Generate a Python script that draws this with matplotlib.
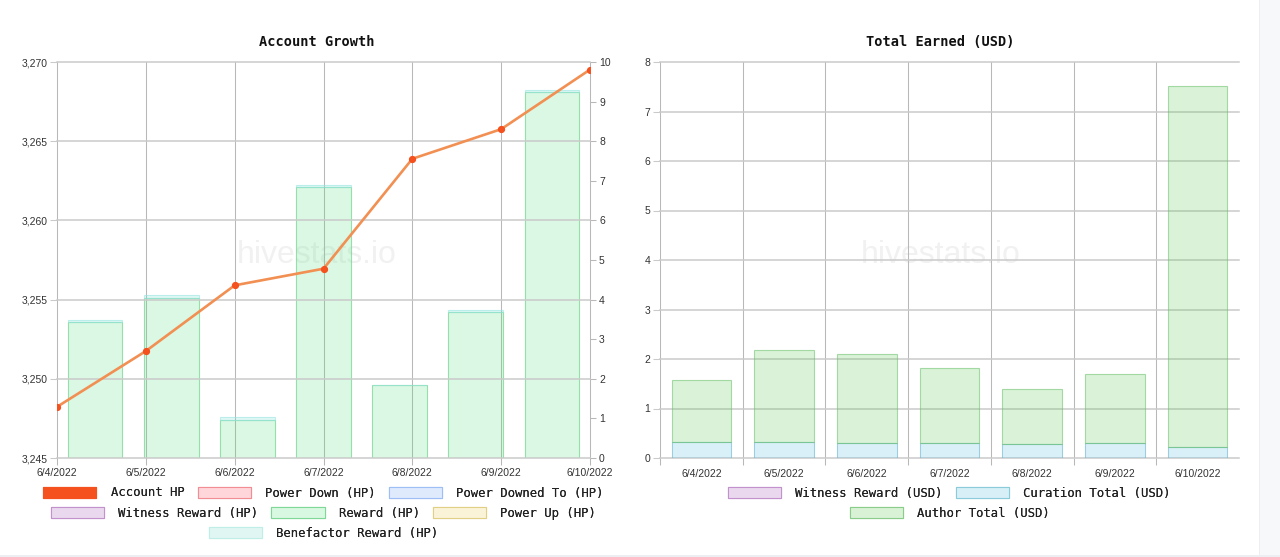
import matplotlib.pyplot as plt
from matplotlib.patches import Patch, Rectangle
import numpy as np

# =========================================================
#  DATOS
# =========================================================
fechas = ['6/4/2022', '6/5/2022', '6/6/2022', '6/7/2022',
          '6/8/2022', '6/9/2022', '6/10/2022']

account_hp = [3248.23, 3251.75, 3255.90, 3256.95, 3263.89, 3265.76, 3269.52]
reward_hp = [3.43, 4.05, 0.96, 6.84, 1.85, 3.68, 9.23]
benefactor_hp = [0.05, 0.07, 0.08, 0.06, 0.00, 0.05, 0.07]

curation_usd = [0.33, 0.32, 0.30, 0.31, 0.29, 0.30, 0.22]
author_usd = [1.25, 1.86, 1.81, 1.51, 1.10, 1.40, 7.29]

hp_ticks = [3245, 3250, 3255, 3260, 3265, 3270]
hp_ticklabels = ['3,245', '3,250', '3,255', '3,260', '3,265', '3,270']

# =========================================================
#  ESTILO
# =========================================================
W, H = 1280, 557
GRID_H = '#cacaca'
GRID_V = '#b8b8b8'
TXT = '#333333'
MONO = 'DejaVu Sans Mono'
SANS = 'Liberation Sans'

plt.rcParams['font.family'] = SANS
plt.rcParams['xtick.labelsize'] = 7.5
plt.rcParams['ytick.labelsize'] = 7.5

fig = plt.figure(figsize=(W / 100, H / 100), dpi=100)
fig.patch.set_facecolor('white')

# franjas grises del borde de la página
fig.patches.append(Rectangle((1259 / W, 0), 21 / W, 1, transform=fig.transFigure,
                             facecolor='#f7f8fa', edgecolor='none', zorder=-5))
fig.patches.append(Rectangle((1259 / W, 0), 1 / W, 1, transform=fig.transFigure,
                             facecolor='#eceef1', edgecolor='none', zorder=-4))
fig.patches.append(Rectangle((0, 0), 1, 2 / H, transform=fig.transFigure,
                             facecolor='#eceef1', edgecolor='none', zorder=-4))


def px(x0, x1, y0, y1):
    return [x0 / W, 1 - y1 / H, (x1 - x0) / W, (y1 - y0) / H]


def fila_leyenda(handles, labels, xc, yc):
    leg = fig.legend(handles, labels, loc='center', bbox_to_anchor=(xc / W, 1 - yc / H),
                     ncol=len(handles), frameon=False, borderpad=0, borderaxespad=0,
                     handlelength=4.35, handleheight=1.05, handletextpad=1.15,
                     columnspacing=1.1, prop={'family': MONO, 'size': 8.8})
    for t in leg.get_texts():
        t.set_color('#222222')
    fig.add_artist(leg)


# =========================================================
#  1. ACCOUNT GROWTH
# =========================================================
ax_bar = fig.add_axes(px(57, 590, 62, 458))
ax_line = ax_bar.twinx()

n = len(fechas)
x_line = np.arange(n)
slot = (n - 1) / n
x_bar = (np.arange(n) + 0.5) * slot

ax_bar.bar(x_bar, reward_hp, width=0.72 * slot,
           color=(0.35, 0.88, 0.50, 0.22), edgecolor=(0.40, 0.82, 0.52, 0.65),
           linewidth=0.8, zorder=2)
ax_bar.bar(x_bar, benefactor_hp, bottom=reward_hp, width=0.72 * slot,
           color=(0.45, 0.88, 0.85, 0.22), edgecolor=(0.60, 0.90, 0.88, 0.6),
           linewidth=0.8, zorder=2)
ax_bar.text(0.488, 0.513, 'hivestats.io', transform=ax_bar.transAxes,
            ha='center', va='center', fontsize=23, color='#f1f1f1', zorder=0)

ax_line.plot(x_line, account_hp, color='#f28f52', lw=1.9, zorder=3,
             marker='o', markersize=4.2, markerfacecolor='#f4511e',
             markeredgecolor='#f4511e')

ax_bar.set_xlim(0, n - 1)
ax_bar.set_ylim(0, 10)
ax_line.set_ylim(3245, 3270)

ax_bar.set_xticks(x_line)
ax_bar.set_xticklabels(fechas)
ax_bar.set_yticks(range(0, 11))
ax_bar.yaxis.tick_right()
ax_line.set_yticks(hp_ticks)
ax_line.set_yticklabels(hp_ticklabels)
ax_line.yaxis.tick_left()

ax_bar.grid(axis='x', color=GRID_V, lw=0.75, zorder=1)
ax_line.grid(axis='y', color=GRID_H, lw=1.1)
for ax in (ax_bar, ax_line):
    for s in ax.spines.values():
        s.set_visible(False)
    for gl in ax.get_xgridlines() + ax.get_ygridlines():
        gl.set_clip_on(False)
ax_bar.tick_params(axis='x', length=5, width=0.75, color=GRID_V, pad=2, labelcolor=TXT)
ax_bar.tick_params(axis='y', length=4.5, width=0.75, color=GRID_V, pad=2, labelcolor=TXT)
ax_line.tick_params(axis='y', length=5, width=0.75, color=GRID_H, pad=2, labelcolor=TXT)

fig.text(317 / W, 1 - 42 / H, 'Account Growth', ha='center', va='center',
         family=MONO, fontweight='bold', fontsize=9.8, color='#111111')

h_acc = Patch(facecolor='#f4511e', edgecolor='#f4511e', lw=0.8)
h_pdown = Patch(facecolor='#ffd7da', edgecolor='#f28d93', lw=0.8)
h_pdto = Patch(facecolor='#dfeafd', edgecolor='#9dbff5', lw=0.8)
h_wit = Patch(facecolor='#ead9ee', edgecolor='#c391cc', lw=0.8)
h_rew = Patch(facecolor='#d8f8e2', edgecolor='#7fd898', lw=0.8)
h_pup = Patch(facecolor='#faf3d8', edgecolor='#e2cf86', lw=0.8)
h_ben = Patch(facecolor='#e0f6f3', edgecolor='#bfeee7', lw=0.8)

fila_leyenda([h_acc, h_pdown, h_pdto],
             ['Account HP', 'Power Down (HP)', 'Power Downed To (HP)'], 323.5, 493)
fila_leyenda([h_wit, h_rew, h_pup],
             ['Witness Reward (HP)', 'Reward (HP)', 'Power Up (HP)'], 323.5, 513)
fila_leyenda([h_ben], ['Benefactor Reward (HP)'], 323.5, 533)

# =========================================================
#  2. TOTAL EARNED (USD)
# =========================================================
ax_r = fig.add_axes(px(660, 1239, 62, 458))
ax_r.set_axisbelow(True)
x = np.arange(n)
ax_r.bar(x, curation_usd, width=0.72,
         color=(0.35, 0.75, 0.90, 0.22), edgecolor=(0.40, 0.70, 0.80, 0.6),
         linewidth=0.8, zorder=2)
ax_r.bar(x, author_usd, bottom=curation_usd, width=0.72,
         color=(0.35, 0.78, 0.31, 0.22), edgecolor=(0.40, 0.75, 0.40, 0.55),
         linewidth=0.8, zorder=2)
ax_r.text(0.484, 0.513, 'hivestats.io', transform=ax_r.transAxes,
          ha='center', va='center', fontsize=23, color='#f1f1f1', zorder=0)

ax_r.set_xlim(-0.5, n - 0.5)
ax_r.set_ylim(0, 8)
ax_r.set_xticks(x)
ax_r.set_xticklabels(fechas)
ax_r.set_xticks(np.arange(n) - 0.5, minor=True)
ax_r.set_yticks(range(0, 9))
ax_r.grid(axis='y', color=GRID_H, lw=1.1)
ax_r.grid(axis='x', which='minor', color=GRID_V, lw=0.75)
for s in ax_r.spines.values():
    s.set_visible(False)
for gl in ax_r.get_ygridlines() + ax_r.xaxis.get_minorticklines():
    gl.set_clip_on(False)
ax_r.tick_params(axis='x', which='major', length=0, pad=8, labelcolor=TXT)
ax_r.tick_params(axis='x', which='minor', length=5, width=0.75, color=GRID_V)
ax_r.tick_params(axis='y', length=5, width=0.75, color=GRID_H, pad=2, labelcolor=TXT)

fig.text(940.5 / W, 1 - 42 / H, 'Total Earned (USD)', ha='center', va='center',
         family=MONO, fontweight='bold', fontsize=9.8, color='#111111')

h_wit_usd = Patch(facecolor='#ead9ee', edgecolor='#c391cc', lw=0.8)
h_cur_usd = Patch(facecolor='#d8eff8', edgecolor='#8ccbd9', lw=0.8)
h_aut_usd = Patch(facecolor='#d9f2d6', edgecolor='#8acd8a', lw=0.8)

fila_leyenda([h_wit_usd, h_cur_usd],
             ['Witness Reward (USD)', 'Curation Total (USD)'], 949.5, 493)
fila_leyenda([h_aut_usd], ['Author Total (USD)'], 949.5, 513)

plt.savefig('out.png', dpi=100)
